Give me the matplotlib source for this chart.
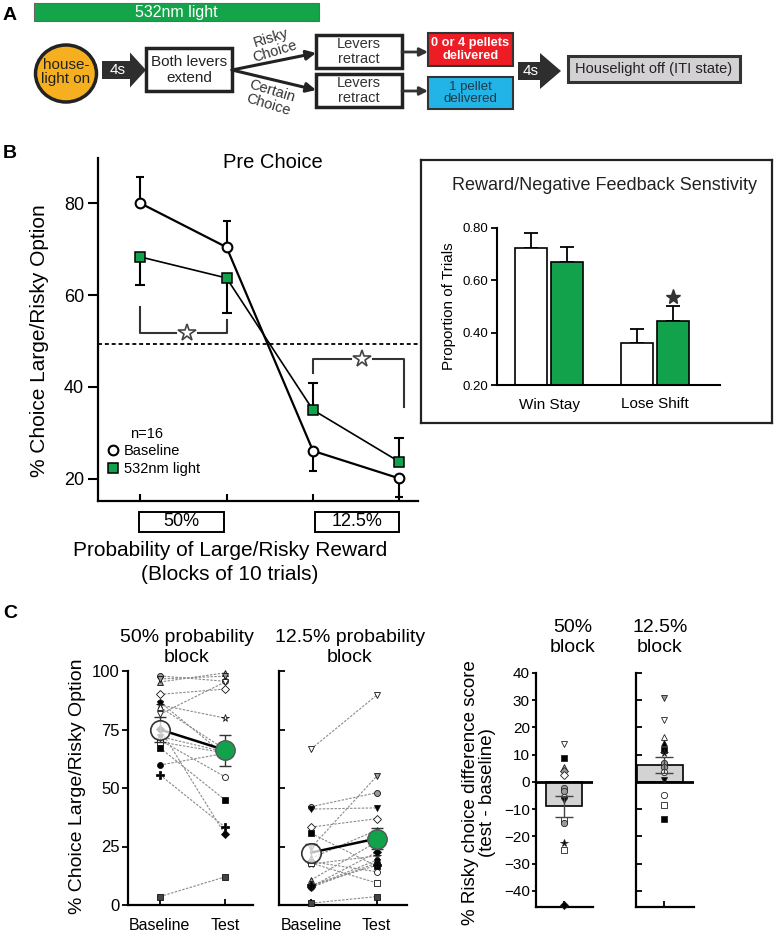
import matplotlib
matplotlib.use('Agg')
import matplotlib.pyplot as plt
from matplotlib.patches import Rectangle, Ellipse, Polygon
from matplotlib.lines import Line2D

plt.rcParams['font.family'] = ['Liberation Sans', 'DejaVu Sans']

W, H = 775, 936
fig = plt.figure(figsize=(7.75, 9.36), dpi=100)


def box(l, t, r, b):
    return [l / W, 1 - b / H, (r - l) / W, (b - t) / H]


def fx(x):
    return x / W


def fy(y):
    return 1 - y / H


GREEN = '#11a24b'
GRAY = '#9a9a9a'

# ---------------- data ----------------
# Panel B: pre-choice
block_labels = ['50%', '12.5%']
b_x = [0, 1, 2, 3]
b_baseline = [80.0, 70.4, 26.1, 20.1]
b_baseline_err_lo = [0, 0, 4.4, 4.0]
b_baseline_err_hi = [5.7, 5.7, 0, 0]
b_light = [68.3, 63.7, 35.0, 23.7]
b_light_err_lo = [6.2, 7.6, 0, 0]
b_light_err_hi = [0, 0, 5.9, 5.2]
chance_level = 49.4
bracket1_x = [0, 1]
bracket1_y = [57.4, 51.7, 54.6]
bracket2_x = [2, 3.05]
bracket2_y = [43.0, 46.1, 35.7]

# Inset: win-stay / lose-shift
inset_groups = ['Win Stay', 'Lose Shift']
inset_baseline = [0.724, 0.361]
inset_baseline_err = [0.057, 0.053]
inset_light = [0.670, 0.445]
inset_light_err = [0.058, 0.057]
inset_sig_y = 0.537

# Panel C: individual rats (same marker per rat)
rat_markers = ['o', 'v', '^', 'D', 'v', '*', 'p', '^', 'D', 'o', 's', 'o', 's', 'P', 's', 'v']
rat_faces = [GRAY, 'black', GRAY, 'white', 'white', 'white', 'black', 'white',
             'black', 'white', 'white', 'black', 'black', 'black', '#444444', GRAY]

c1_baseline = [97.9, 72.0, 95.3, 90.0, 81.5, 85.5, 86.8, 84.6, 75.3, 70.5, 69.7, 59.8, 67.2, 55.6, 3.6, 96.6]
c1_test = [95.6, 65.4, 99.2, 92.3, 95.3, 79.9, 64.0, 66.5, 30.2, 54.8, 65.0, 64.8, 44.9, 33.3, 12.0, 97.8]
c1_mean = [75.0, 66.2]
c1_sem = [5.3, 6.6]

c2_baseline = [42.0, 41.0, 10.7, 33.3, 66.7, 17.5, 7.8, 20.0, 7.8, 18.5, 17.9, 7.5, 30.6, 8.5, 0.8, 24.5]
c2_test = [48.0, 41.5, 27.0, 36.9, 89.7, 21.0, 19.2, 32.0, 22.6, 14.2, 9.4, 18.0, 16.6, 17.0, 3.6, 55.1]
c2_mean = [22.4, 28.4]
c2_sem = [3.5, 4.5]

c3_diff = [14.0, 8.7, 5.5, 4.2, 2.6, -2.3, -3.5, -5.4, -6.6, -14.0, -15.1, -22.4, -25.0, -45.1]
c3_mk = ['v', 's', '^', 'D', 'D', 'o', 'o', 'o', 'v', 's', 'o', '*', 's', 'D']
c3_fc = ['white', 'black', GRAY, GRAY, 'white', GRAY, GRAY, 'white', 'black', 'white', GRAY, 'black', 'white', 'black']
c3_mean = -9.0
c3_sem = 3.8

c4_diff = [30.7, 22.7, 16.6, 14.4, 11.7, 10.8, 6.9, 5.6, 3.8, 0.7, -4.8, -8.4, -13.6]
c4_mk = ['v', 'v', '^', '^', 's', '*', 'o', 'o', 'o', 'v', 'o', 's', 's']
c4_fc = [GRAY, 'white', 'white', 'black', 'black', 'black', GRAY, GRAY, 'white', 'black', 'white', 'white', 'black']
c4_mean = 6.2
c4_sem = 2.85

# ---------------- Panel A (schematic) ----------------
axA = fig.add_axes([0, 1 - 135 / H, 1, 135 / H])
axA.set_xlim(0, W)
axA.set_ylim(135, 0)
axA.axis('off')

axA.add_patch(Rectangle((34, 3), 285, 18, fc='#14a54b', ec='#666666', lw=0.8))
axA.text(176, 12.5, '532nm light', color='white', fontsize=11.5, ha='center', va='center')

axA.add_patch(Ellipse((66, 73.5), 61, 57, fc='#f6b01f', ec='#222222', lw=2.5))
axA.text(66, 72, 'house-\nlight on', fontsize=11, ha='center', va='center',
         linespacing=1.05, color='#222222')


def block_arrow(x0, x1, xh, yc, bh, hh, label):
    pts = [(x0, yc - bh), (x1, yc - bh), (x1, yc - hh), (xh, yc), (x1, yc + hh),
           (x1, yc + bh), (x0, yc + bh)]
    axA.add_patch(Polygon(pts, closed=True, fc='#2e2e2e', ec='none'))
    axA.text((x0 + x1) / 2 + 2, yc, label, color='white', fontsize=11, ha='center', va='center')


block_arrow(102, 130, 146, 70, 9, 17.5, '4s')

axA.add_patch(Rectangle((146, 48), 86, 43, fc='white', ec='#222222', lw=2.5))
axA.text(189, 70, 'Both levers\nextend', fontsize=11, ha='center', va='center',
         linespacing=1.1, color='#222222')

for yt in (53, 90):
    axA.annotate('', xy=(316, yt), xytext=(232, 70),
                 arrowprops=dict(arrowstyle='-|>', color='#222222', lw=2.2,
                                 mutation_scale=14, shrinkA=0, shrinkB=0))
axA.text(273, 45, 'Risky\nChoice', fontsize=10.5, ha='center', va='center', rotation=17,
         color='#333333', linespacing=1.0)
axA.text(270, 98, 'Certain\nChoice', fontsize=10.5, ha='center', va='center', rotation=-17,
         color='#333333', linespacing=1.0)

for yb in (35, 74):
    axA.add_patch(Rectangle((316, yb), 86, 33, fc='white', ec='#222222', lw=2.5))
    axA.text(359, yb + 16.5, 'Levers\nretract', fontsize=10.5, ha='center', va='center',
             linespacing=1.05, color='#333333')
    axA.annotate('', xy=(428, yb + 17), xytext=(402, yb + 17),
                 arrowprops=dict(arrowstyle='-|>', color='#333333', lw=2,
                                 mutation_scale=12, shrinkA=0, shrinkB=0))

axA.add_patch(Rectangle((428, 33), 85, 33, fc='#ee1c24', ec='#333333', lw=1.5))
axA.text(470.5, 49.5, '0 or 4 pellets\ndelivered', color='white', fontsize=9.2,
         fontweight='bold', ha='center', va='center', linespacing=1.05)
axA.add_patch(Rectangle((428, 77), 85, 32, fc='#22b4e6', ec='#333333', lw=1.5))
axA.text(470.5, 93, '1 pellet\ndelivered', color='#1e3a48', fontsize=9.5,
         ha='center', va='center', linespacing=1.05)

block_arrow(518, 540, 561, 71, 9, 18, '4s')

axA.add_patch(Rectangle((568, 56), 172, 26, fc='#d3d1d3', ec='#333333', lw=2.2))
axA.text(654, 69.5, 'Houselight off (ITI state)', fontsize=10.5, ha='center', va='center',
         color='#222222')

# panel letters
for letter, (x, y) in {'A': (10, 15), 'B': (10, 153), 'C': (10, 613)}.items():
    fig.text(fx(x), fy(y), letter, fontsize=14, fontweight='bold', ha='center', va='center')

# ---------------- Panel B ----------------
axB = fig.add_axes(box(98, 158, 418, 501))
axB.set_zorder(1)
axB.set_xlim(-0.486, 3.214)
axB.set_ylim(15.2, 89.8)
for s in ('top', 'right'):
    axB.spines[s].set_visible(False)
for s in ('left', 'bottom'):
    axB.spines[s].set_linewidth(1.6)
axB.set_yticks([20, 40, 60, 80])
axB.set_xticks(b_x)
axB.set_xticklabels([])
axB.tick_params(axis='y', direction='out', length=7, width=1.5, labelsize=13, pad=3)
axB.tick_params(axis='x', direction='in', length=5, width=1.5)
axB.patch.set_alpha(0)

axB.plot([-0.486, 3.249], [chance_level, chance_level], color='black', lw=1.3,
         ls=(0, (2.2, 1.6)), clip_on=False, zorder=1)

axB.plot(b_x, b_baseline, color='black', lw=1.6, zorder=2)
axB.plot(b_x, b_light, color='black', lw=1.2, zorder=2)
axB.errorbar(b_x, b_baseline, yerr=[b_baseline_err_lo, b_baseline_err_hi], fmt='none',
             ecolor='black', elinewidth=1.5, capsize=3, capthick=1.5, zorder=2)
axB.errorbar(b_x, b_light, yerr=[b_light_err_lo, b_light_err_hi], fmt='none',
             ecolor='black', elinewidth=1.5, capsize=3.5, capthick=1.5, zorder=2)
axB.plot(b_x, b_baseline, 'o', ms=7, mfc='white', mec='black', mew=1.5, zorder=4)
axB.plot(b_x, b_light, 's', ms=7.5, mfc=GREEN, mec='black', mew=1.1, zorder=4)

bc = '#333333'
# bracket 1 (50% block)
x0, x1 = bracket1_x
axB.plot([x0, x0, x0 + 0.42], [bracket1_y[0], bracket1_y[1], bracket1_y[1]], color=bc, lw=1.5)
axB.plot([x0 + 0.67, x1, x1], [bracket1_y[1], bracket1_y[1], bracket1_y[2]], color=bc, lw=1.5)
axB.plot([(x0 + x1) / 2 + 0.045], [bracket1_y[1]], marker='*', ms=13, mfc='white', mec='#444444', mew=1.2)
# bracket 2 (12.5% block)
x0, x1 = bracket2_x
axB.plot([x0, x0, x0 + 0.44], [bracket2_y[0], bracket2_y[1], bracket2_y[1]], color=bc, lw=1.5)
axB.plot([x0 + 0.69, x1, x1], [bracket2_y[1], bracket2_y[1], bracket2_y[2]], color=bc, lw=1.5)
axB.plot([x0 + 0.565], [bracket2_y[1]], marker='*', ms=13, mfc='white', mec='#444444', mew=1.2)

fig.text(fx(273), fy(163), 'Pre Choice', fontsize=14.5, ha='center', va='center')
fig.text(fx(40), fy(341), '% Choice Large/Risky Option', fontsize=15, rotation=90,
         ha='center', va='center')
fig.text(fx(230), fy(551), 'Probability of Large/Risky Reward', fontsize=15,
         ha='center', va='center')
fig.text(fx(230), fy(574), '(Blocks of 10 trials)', fontsize=15, ha='center', va='center')

for lab, (l, r) in zip(block_labels, [(139, 224), (315, 399)]):
    fig.patches.append(Rectangle((fx(l), fy(532)), (r - l) / W, 20 / H, fill=False,
                                 ec='black', lw=1.4, transform=fig.transFigure, figure=fig))
    fig.text(fx((l + r) / 2), fy(522), lab, fontsize=13, ha='center', va='center')

fig.text(fx(130), fy(434), 'n=16', fontsize=10.5, ha='left', va='center')
h_base = Line2D([], [], marker='o', ls='none', ms=7, mfc='white', mec='black', mew=1.5)
h_light = Line2D([], [], marker='s', ls='none', ms=7.5, mfc=GREEN, mec='black', mew=1.1)
axB.legend([h_base, h_light], ['Baseline', '532nm light'], loc='upper left',
           bbox_to_anchor=(fx(107), fy(444)), bbox_transform=fig.transFigure,
           frameon=False, fontsize=10.5, handlelength=0.8, handletextpad=0.35,
           borderpad=0, borderaxespad=0, labelspacing=0.25)

# ---------------- Inset ----------------
axF = fig.add_axes(box(421, 160, 772, 423))
axF.set_zorder(2)
axF.set_xticks([])
axF.set_yticks([])
for s in axF.spines.values():
    s.set_linewidth(1.6)
    s.set_color('#222222')

axI = fig.add_axes(box(497, 228, 720, 385))
axI.set_zorder(3)
axI.patch.set_alpha(0)
axI.set_xlim(-0.49, 1.61)
axI.set_ylim(0.2, 0.8)
for s in ('top', 'right'):
    axI.spines[s].set_visible(False)
for s in ('left', 'bottom'):
    axI.spines[s].set_linewidth(1.5)
gx = [0, 1]
off, bw = 0.17, 0.30
axI.bar([g - off for g in gx], [v - 0.2 for v in inset_baseline], bottom=0.2, width=bw,
        color='white', edgecolor='black', lw=1.2, zorder=2)
axI.bar([g + off for g in gx], [v - 0.2 for v in inset_light], bottom=0.2, width=bw,
        color=GREEN, edgecolor='black', lw=1.2, zorder=2)
axI.errorbar([g - off for g in gx], inset_baseline, yerr=[[0, 0], inset_baseline_err],
             fmt='none', ecolor='black', elinewidth=1.3, capsize=5, capthick=1.3, zorder=1)
axI.errorbar([g + off for g in gx], inset_light, yerr=[[0, 0], inset_light_err],
             fmt='none', ecolor='black', elinewidth=1.3, capsize=5, capthick=1.3, zorder=1)
axI.plot([1 + off], [inset_sig_y], marker='*', ms=11, color='#333333', clip_on=False)
axI.set_yticks([0.2, 0.4, 0.6, 0.8])
axI.set_yticklabels(['0.20', '0.40', '0.60', '0.80'])
axI.set_xticks(gx)
axI.set_xticklabels(inset_groups)
axI.tick_params(axis='y', direction='out', length=4, width=1.3, labelsize=9.5, pad=2)
axI.tick_params(axis='x', length=0, labelsize=11, pad=9)
fig.text(fx(605), fy(185), 'Reward/Negative Feedback Senstivity', fontsize=13,
         ha='center', va='center', color='#222222', zorder=5)
fig.text(fx(449), fy(306), 'Proportion of Trials', fontsize=11, rotation=90,
         ha='center', va='center', zorder=5)

# ---------------- Panel C ----------------
LINE_GRAY = '#8a8a8a'


def style_c(ax, direction):
    for s in ('top', 'right'):
        ax.spines[s].set_visible(False)
    for s in ('left', 'bottom'):
        ax.spines[s].set_linewidth(1.6)
    ax.tick_params(axis='y', direction=direction, length=4, width=1.3)
    ax.tick_params(axis='x', direction='in', length=4, width=1.3)
    ax.patch.set_alpha(0)


def pairs(ax, base, test, mean, sem):
    for i in range(len(base)):
        ax.plot([0, 1], [base[i], test[i]], color=LINE_GRAY, lw=0.8, ls=(0, (2.2, 1.3)), zorder=1)
    for i in range(len(base)):
        ms = 5.5 if rat_markers[i] in ('*', 'P') else 4.3
        ax.plot([0, 1], [base[i], test[i]], ls='none', marker=rat_markers[i], ms=ms,
                mfc=rat_faces[i], mec='#111111', mew=0.6, clip_on=False, zorder=3)
    ax.plot([0, 1], mean, color='black', lw=1.8, zorder=4)
    ax.errorbar([0, 1], mean, yerr=sem, fmt='none', ecolor='#333333', elinewidth=1,
                capsize=4, capthick=1, zorder=4)
    ax.plot([0], [mean[0]], 'o', ms=14, mfc=(1, 1, 1, 0.75), mec='#333333', mew=1.2, zorder=5)
    ax.plot([1], [mean[1]], 'o', ms=14, mfc=GREEN, mec='#555555', mew=1, zorder=5)


axC1 = fig.add_axes(box(128, 671, 253, 905))
axC1.set_xlim(-0.49, 1.43)
axC1.set_ylim(0, 100)
style_c(axC1, 'out')
pairs(axC1, c1_baseline, c1_test, c1_mean, c1_sem)
axC1.set_yticks([0, 25, 50, 75, 100])
axC1.tick_params(axis='y', labelsize=12, pad=2)

axC2 = fig.add_axes(box(279, 671, 407, 905))
axC2.set_xlim(-0.49, 1.46)
axC2.set_ylim(0, 100)
style_c(axC2, 'in')
pairs(axC2, c2_baseline, c2_test, c2_mean, c2_sem)
axC2.set_yticks([0, 25, 50, 75, 100])
axC2.set_yticklabels([])

for ax in (axC1, axC2):
    ax.set_xticks([0, 1])
    ax.set_xticklabels(['Baseline', 'Test'])
    ax.tick_params(axis='x', labelsize=11.5, pad=9)

fig.text(fx(187), fy(637), '50% probability', fontsize=14, ha='center', va='center')
fig.text(fx(187), fy(657), 'block', fontsize=14, ha='center', va='center')
fig.text(fx(350), fy(637), '12.5% probability', fontsize=14, ha='center', va='center')
fig.text(fx(350), fy(657), 'block', fontsize=14, ha='center', va='center')
fig.text(fx(77), fy(786), '% Choice Large/Risky Option', fontsize=14, rotation=90,
         ha='center', va='center')


def diff_panel(ax, vals, mks, fcs, mean, sem, barx, barw):
    ax.set_ylim(-45.9, 40)
    ax.bar(barx, mean, width=barw, color='#d3d3d3', edgecolor='black', lw=1.2, zorder=1)
    ax.axhline(0, color='black', lw=2, zorder=2)
    for v, m, f in zip(vals, mks, fcs):
        ms = 5.5 if m in ('*', 'P') else 4.5
        ax.plot([0], [v], marker=m, ms=ms, mfc=f, mec='#222222', mew=0.6,
                clip_on=False, zorder=3)
    ax.errorbar([0], [mean], yerr=[sem], fmt='none', ecolor='#444444', elinewidth=1,
                capsize=6.5, capthick=1, zorder=4)
    ax.set_yticks(range(-40, 41, 10))
    ax.set_xticks([0])
    ax.set_xticklabels([])


axC3 = fig.add_axes(box(536, 673, 593, 907))
axC3.set_xlim(-1, 1.04)
style_c(axC3, 'out')
diff_panel(axC3, c3_diff, c3_mk, c3_fc, c3_mean, c3_sem, 0, 1.3)
axC3.tick_params(axis='y', labelsize=11, pad=1.5, length=3)

axC4 = fig.add_axes(box(636, 673, 694, 907))
axC4.set_xlim(-1, 1.07)
style_c(axC4, 'in')
diff_panel(axC4, c4_diff, c4_mk, c4_fc, c4_mean, c4_sem, -0.14, 1.64)
axC4.set_yticklabels([])

fig.text(fx(573), fy(628), '50%', fontsize=14, ha='center', va='center')
fig.text(fx(573), fy(648), 'block', fontsize=14, ha='center', va='center')
fig.text(fx(660), fy(628), '12.5%', fontsize=14, ha='center', va='center')
fig.text(fx(660), fy(648), 'block', fontsize=14, ha='center', va='center')
fig.text(fx(479), fy(793), '% Risky choice difference score\n(test - baseline)', fontsize=13.5,
         rotation=90, ha='center', va='center', multialignment='center', linespacing=0.95)

fig.savefig('out.png', dpi=100)
